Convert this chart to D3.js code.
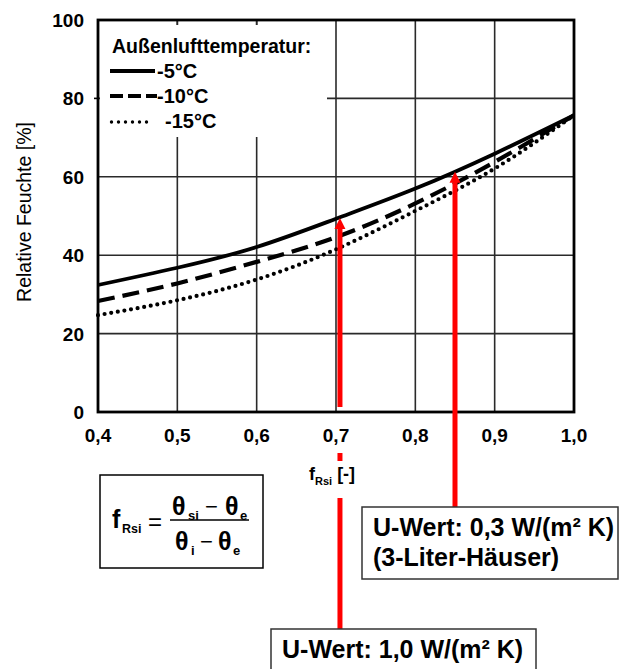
<!DOCTYPE html>
<html>
<head>
<meta charset="utf-8">
<script src="https://cdn.jsdelivr.net/npm/d3@7"></script>
<style>
  html, body { margin: 0; padding: 0; background: #fff; }
  svg { display: block; }
  text { font-family: "Liberation Sans", Arial, sans-serif; fill: #000; }
</style>
</head>
<body>
<svg id="chart" width="622" height="669"></svg>
<script>
// ---- data ----
const fRsi = [0.4, 0.5, 0.6, 0.7, 0.8, 0.9, 1.0];
const rhMinus5  = [32.4, 36.8, 42.1, 49.3, 57.0, 65.9, 75.7];
const rhMinus10 = [28.3, 32.8, 38.3, 44.6, 53.2, 63.8, 75.7];
const rhMinus15 = [24.7, 28.5, 33.8, 41.5, 51.3, 62.1, 75.7];
const seriesNames = ["-5°C", "-10°C", "-15°C"];
const xTicks = [0.4, 0.5, 0.6, 0.7, 0.8, 0.9, 1.0];
const xTickLabels = ["0,4", "0,5", "0,6", "0,7", "0,8", "0,9", "1,0"];
const yTicks = [0, 20, 40, 60, 80, 100];
const arrowF  = [0.705, 0.85];
const arrowRH = [49.5, 61.3];
const uLabels = [["U-Wert: 1,0 W/(m² K)"], ["U-Wert: 0,3 W/(m² K)", "(3-Liter-Häuser)"]];
const legendTitle = "Außenlufttemperatur:";
const yTitle = "Relative Feuchte [%]";

const svg = d3.select("#chart");
const x = d3.scaleLinear().domain([0.4, 1.0]).range([98, 574]);
const y = d3.scaleLinear().domain([0, 100]).range([412, 20]);
const red = "#ff0000";

// ---- grid ----
const grid = svg.append("g");
grid.selectAll("line.v").data(xTicks.slice(1, -1)).join("line")
  .attr("x1", d => x(d)).attr("x2", d => x(d))
  .attr("y1", y(100)).attr("y2", y(0))
  .attr("stroke", "#2a2a2a").attr("stroke-width", 1.6);
grid.selectAll("line.h").data(yTicks.slice(1, -1)).join("line")
  .attr("x1", x(0.4)).attr("x2", x(1.0))
  .attr("y1", d => y(d)).attr("y2", d => y(d))
  .attr("stroke", "#2a2a2a").attr("stroke-width", 1.6);

// legend background (covers grid)
const lg = svg.append("g");
lg.append("rect").attr("x", x(0.4) + 2).attr("y", y(100) + 5)
  .attr("width", 227).attr("height", 112).attr("fill", "#fff");
svg.selectAll("line.tt").data([0.5, 0.6]).join("line")
  .attr("x1", d => x(d)).attr("x2", d => x(d))
  .attr("y1", y(100)).attr("y2", y(100) + 5)
  .attr("stroke", "#2a2a2a").attr("stroke-width", 1.6);

// ---- frame ----
svg.append("rect").attr("x", x(0.4)).attr("y", y(100))
  .attr("width", x(1.0) - x(0.4)).attr("height", y(0) - y(100))
  .attr("fill", "none").attr("stroke", "#000").attr("stroke-width", 2.8);
svg.append("line").attr("x1", x(0.4) - 4).attr("x2", x(0.4))
  .attr("y1", y(80)).attr("y2", y(80)).attr("stroke", "#000").attr("stroke-width", 1.6);

// ---- tick labels ----
svg.selectAll("text.xt").data(xTicks).join("text")
  .attr("x", d => x(d)).attr("y", 442)
  .attr("text-anchor", "middle").attr("font-size", 19).attr("font-weight", "bold")
  .text((d, i) => xTickLabels[i]);
svg.selectAll("text.yt").data(yTicks).join("text")
  .attr("x", 84).attr("y", d => y(d) + 7)
  .attr("text-anchor", "end").attr("font-size", 19).attr("font-weight", "bold")
  .text(d => d);

// y title
svg.append("text").attr("transform", "translate(31," + 212 + ") rotate(-90)")
  .attr("text-anchor", "middle").attr("font-size", 19.5)
  .text(yTitle);

// x title
const xt = svg.append("text").attr("x", 309).attr("y", 480).attr("font-weight", "bold");
xt.append("tspan").attr("font-size", 18).text("f");
xt.append("tspan").attr("font-size", 11).attr("dy", 5).text("Rsi");
xt.append("tspan").attr("font-size", 18).attr("dy", -5).attr("dx", 5).text("[-]");

// ---- curves ----
const line = d3.line().x((d, i) => x(fRsi[i])).y(d => y(d)).curve(d3.curveNatural);
const styles = [
  { dash: null, w: 3.8, cap: "butt" },
  { dash: "17,8", w: 4.2, cap: "butt" },
  { dash: "0,6.7", w: 4.2, cap: "round" }
];
[rhMinus5, rhMinus10, rhMinus15].forEach((s, k) => {
  svg.append("path").attr("d", line(s)).attr("fill", "none")
    .attr("stroke", "#000").attr("stroke-width", styles[k].w)
    .attr("stroke-dasharray", styles[k].dash).attr("stroke-linecap", styles[k].cap);
});

// ---- legend ----
lg.append("text").attr("x", 112).attr("y", 53).attr("font-size", 19.5)
  .attr("font-weight", "bold").text(legendTitle);
const legStyles = [
  { dash: null, w: 3.8, cap: "butt", x2: 155 },
  { dash: "13,5", w: 4.2, cap: "butt", x2: 157 },
  { dash: "0,7", w: 3.4, cap: "round", x2: 150 }
];
seriesNames.forEach((n, k) => {
  const cy = 71 + k * 25;
  lg.append("line").attr("x1", 110 + (k === 2 ? 1.5 : 0)).attr("x2", legStyles[k].x2)
    .attr("y1", cy + (k === 2 ? 1 : 0)).attr("y2", cy + (k === 2 ? 1 : 0))
    .attr("stroke", "#000").attr("stroke-width", legStyles[k].w)
    .attr("stroke-dasharray", legStyles[k].dash).attr("stroke-linecap", legStyles[k].cap);
  lg.append("text").attr("x", k === 2 ? 165 : 157).attr("y", cy + 7)
    .attr("font-size", 20).attr("font-weight", "bold").text(n);
});

// ---- formula box ----
const fg = svg.append("g").attr("transform", "translate(100,475)");
fg.append("rect").attr("width", 163).attr("height", 93)
  .attr("fill", "#fff").attr("stroke", "#000").attr("stroke-width", 1.5);
function piece(px, py, txt, size, weight) {
  fg.append("text").attr("x", px).attr("y", py).attr("font-size", size)
    .attr("font-weight", weight).text(txt);
}
piece(12, 53, "f", 25, "bold");
piece(22, 58, "Rsi", 12.5, "bold");
piece(48, 55, "=", 24, "normal");
fg.append("line").attr("x1", 70).attr("x2", 149).attr("y1", 45).attr("y2", 45)
  .attr("stroke", "#000").attr("stroke-width", 1.5);
piece(72, 40, "θ", 25, "bold");
piece(88, 45, "si", 13, "bold");
piece(105, 39, "−", 22, "normal");
piece(125, 40, "θ", 25, "bold");
piece(140, 45, "e", 13, "bold");
piece(75, 75, "θ", 25, "bold");
piece(91, 80, "i", 13, "bold");
piece(100, 74, "−", 22, "normal");
piece(118, 75, "θ", 25, "bold");
piece(133, 80, "e", 13, "bold");

// ---- red arrows ----
const ra = svg.append("g");
function arrow(fx, rh, yBottom) {
  const ax = x(fx), tip = y(rh);
  ra.append("line").attr("x1", ax).attr("x2", ax).attr("y1", yBottom).attr("y2", tip + 8)
    .attr("stroke", red).attr("stroke-width", 5);
  ra.append("path").attr("d", `M${ax},${tip} L${ax - 5.5},${tip + 11} L${ax + 5.5},${tip + 11} Z`)
    .attr("fill", red);
}
arrow(arrowF[0], arrowRH[0], y(0) - 5);
arrow(arrowF[1], arrowRH[1], 507);
ra.append("line").attr("x1", x(arrowF[0])).attr("x2", x(arrowF[0]))
  .attr("y1", 453).attr("y2", 461).attr("stroke", red).attr("stroke-width", 5);
ra.append("line").attr("x1", x(arrowF[0])).attr("x2", x(arrowF[0]))
  .attr("y1", 498).attr("y2", 629).attr("stroke", red).attr("stroke-width", 5);

// ---- U-value boxes ----
function ubox(bx, by, w, h, lines) {
  const g = svg.append("g").attr("transform", `translate(${bx},${by})`);
  g.append("rect").attr("width", w).attr("height", h).attr("fill", "#fff")
    .attr("stroke", "#333").attr("stroke-width", 1.5);
  lines.forEach((t, i) => {
    g.append("text").attr("x", 11).attr("y", 29 + i * 30).attr("font-size", 25)
      .attr("font-weight", "bold").text(t);
  });
}
ubox(362, 507, 256, 72, uLabels[1]);
ubox(271, 629, 265, 50, uLabels[0]);
</script>
</body>
</html>
